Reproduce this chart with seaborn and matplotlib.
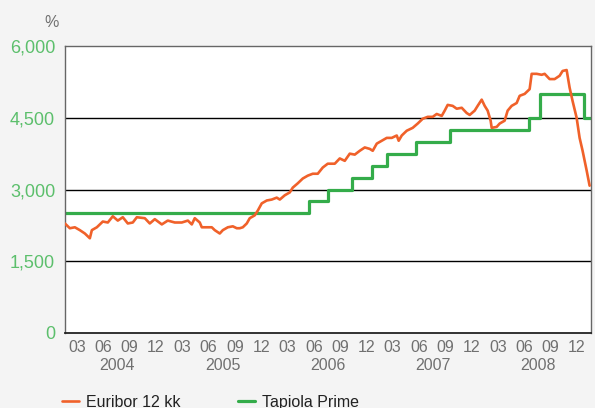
import pandas as pd
import matplotlib.pyplot as plt
import seaborn as sns

# months since 2004-01-01 and rate (%)
euribor_month = [0.00, 0.57, 1.14, 1.71, 2.28, 2.85, 3.08, 3.65, 4.33, 4.90, 5.47, 6.04, 6.61, 7.18,
                 7.75, 8.21, 9.12, 9.69, 10.26, 11.06, 11.74, 12.54, 13.34, 14.03, 14.48, 14.82,
                 15.39, 15.62, 16.31, 16.76, 17.10, 17.67, 18.02, 18.59, 19.16, 19.61, 19.95,
                 20.30, 20.75, 21.09, 21.66, 22.01, 22.46, 23.03, 23.60, 24.17, 24.52, 25.09,
                 25.66, 26.00, 26.57, 27.14, 27.71, 28.28, 28.85, 29.42, 29.99, 30.79, 31.36,
                 31.93, 32.50, 33.07, 33.64, 34.21, 34.78, 35.12, 35.58, 36.15, 36.72, 37.29,
                 37.86, 38.08, 38.43, 39.00, 39.68, 40.25, 40.82, 41.39, 41.96, 42.42, 42.99,
                 43.33, 43.67, 44.24, 44.70, 45.27, 45.84, 46.18, 46.75, 47.09, 47.55, 47.89,
                 48.23, 48.57, 48.69, 49.26, 49.60, 50.17, 50.51, 50.97, 51.54, 51.88, 52.45,
                 53.02, 53.25, 53.82, 54.39, 54.73, 55.30, 55.87, 56.44, 56.78, 57.24, 57.58,
                 57.92, 58.38, 58.72, 59.06, 59.52, 59.86]
euribor_rate = [2.29, 2.19, 2.21, 2.15, 2.08, 1.98, 2.15, 2.21, 2.33, 2.31, 2.44, 2.35, 2.42, 2.29,
                2.31, 2.42, 2.40, 2.29, 2.38, 2.27, 2.35, 2.31, 2.31, 2.35, 2.27, 2.40,
                2.31, 2.21, 2.21, 2.21, 2.15, 2.08, 2.15, 2.21, 2.23, 2.19, 2.19,
                2.21, 2.29, 2.40, 2.46, 2.56, 2.71, 2.77, 2.79, 2.83, 2.79, 2.88,
                2.94, 3.04, 3.13, 3.23, 3.29, 3.33, 3.33, 3.46, 3.54, 3.54, 3.65,
                3.60, 3.75, 3.73, 3.81, 3.88, 3.85, 3.81, 3.96, 4.02, 4.08, 4.08,
                4.13, 4.02, 4.13, 4.23, 4.29, 4.38, 4.48, 4.52, 4.52, 4.58, 4.54,
                4.65, 4.77, 4.75, 4.69, 4.71, 4.60, 4.56, 4.65, 4.75, 4.88, 4.75,
                4.65, 4.44, 4.29, 4.31, 4.38, 4.44, 4.65, 4.75, 4.81, 4.96, 5.00,
                5.10, 5.42, 5.42, 5.40, 5.42, 5.31, 5.31, 5.38, 5.48, 5.50, 5.13,
                4.85, 4.50, 4.08, 3.81, 3.40, 3.08]

prime_month = [0.0, 27.8, 30.0, 32.7, 35.0, 36.8, 40.0, 43.9, 52.9, 54.2, 59.2, 60.0]
prime_rate = [2.50, 2.75, 3.00, 3.25, 3.50, 3.75, 4.00, 4.25, 4.50, 5.00, 4.50, 4.50]

years = [2004, 2005, 2006, 2007, 2008]
tick_months = ["03", "06", "09", "12"]
y_ticks = [0, 1.5, 3.0, 4.5, 6.0]
y_labels = ["0", "1,500", "3,000", "4,500", "6,000"]

euribor = pd.DataFrame({"month": euribor_month, "rate": euribor_rate})
prime = pd.DataFrame({"month": prime_month, "rate": prime_rate})

sns.set_theme(style="white")
plt.rcParams["font.family"] = ["Liberation Sans", "DejaVu Sans"]

bg = "#f4f4f4"
orange = "#f0612a"
green = "#34ac4a"

fig, ax = plt.subplots(figsize=(5.95, 4.08), dpi=100)
fig.patch.set_facecolor(bg)
ax.set_facecolor("white")
fig.subplots_adjust(left=0.109, right=0.993, top=0.887, bottom=0.184)

# grid lines
for y in y_ticks[1:4]:
    ax.axhline(y, color="black", lw=1.0, zorder=1)

sns.lineplot(data=euribor, x="month", y="rate", ax=ax, color=orange, lw=1.9,
             label="Euribor 12 kk", zorder=3)
sns.lineplot(data=prime, x="month", y="rate", ax=ax, color=green, lw=2.3,
             drawstyle="steps-post", label="Tapiola Prime", zorder=2)

ax.set_xlim(0, 60)
ax.set_ylim(0, 6)
ax.set_xlabel("")
ax.set_ylabel("")

ax.set_yticks(y_ticks)
ax.set_yticklabels(y_labels)
ax.tick_params(axis="y", length=0, pad=7, labelsize=13, labelcolor="#5cbf6c")

xt = []
xl = []
for i, yr in enumerate(years):
    for m in tick_months:
        xt.append(i * 12 + int(m) - 1.6)
        xl.append(m)
ax.set_xticks(xt)
ax.set_xticklabels(xl)
ax.tick_params(axis="x", length=0, pad=5, labelsize=11.5, labelcolor="#707070")

for i, yr in enumerate(years):
    ax.text(i * 12 + 6, -0.115, str(yr), transform=ax.get_xaxis_transform(),
            ha="center", va="center", fontsize=11.5, color="#707070")

for side in ["left", "top", "right"]:
    ax.spines[side].set_color("#666666")
    ax.spines[side].set_linewidth(1.0)
ax.spines["bottom"].set_color("#222222")
ax.spines["bottom"].set_linewidth(1.3)

fig.text(0.075, 0.945, "%", fontsize=11.5, color="#707070", ha="left", va="center")

ax.legend_.remove()
handles, labels = ax.get_legend_handles_labels()
fig.legend(handles, labels, loc="center left", bbox_to_anchor=(0.104, 0.014), ncol=2,
           frameon=False, fontsize=11.5, handlelength=1.1, handletextpad=0.4,
           columnspacing=3.6, borderaxespad=0, borderpad=0)
for t in fig.legends[0].get_texts():
    t.set_color("#222222")

fig.savefig("out.png", dpi=100, facecolor=bg)
